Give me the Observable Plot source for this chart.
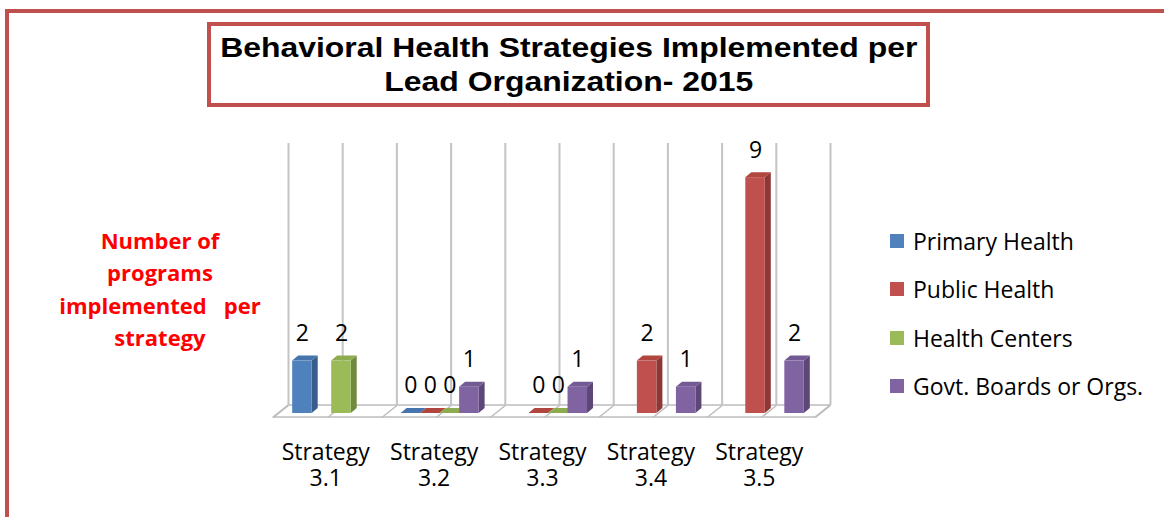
<!DOCTYPE html>
<html><head><meta charset="utf-8">
<script src="https://cdn.jsdelivr.net/npm/d3@7"></script>
<script src="https://cdn.jsdelivr.net/npm/@observablehq/plot@0.6"></script>
<style>
body{margin:0;background:#fff;overflow:hidden;width:1164px;height:517px;position:relative;font-family:"Open Sans",sans-serif}
#frame{position:absolute;left:5px;top:9px;width:1300px;height:700px;border:4px solid #c0504d;box-sizing:border-box}
#chart{position:absolute;left:0;top:0}
#title{position:absolute;left:207px;top:22px;width:723px;height:85px;border:4px solid #c0504d;box-sizing:border-box;background:#fff;display:flex;align-items:center;justify-content:center}
#title div{font-family:"Liberation Sans",Arial,sans-serif;font-weight:bold;font-size:28px;line-height:34px;text-align:center;transform:scaleX(1.14);white-space:pre}
#ytitle{position:absolute;left:40px;width:240px;top:224px;text-align:center;color:#ff0000;font-weight:bold;font-size:22px;line-height:32.3px;white-space:pre}
#legend{position:absolute;left:890px;top:217px}
.li{display:flex;align-items:center;height:48.3px;font-size:23px;color:#000}
.sw{width:14px;height:14px;margin-right:9px;flex:none}
</style></head><body>
<div id="frame"></div>
<div id="chart"></div>
<div id="title"><div></div></div>
<div id="ytitle"></div>
<div id="legend"></div>
<script>
// ---- data ----
const titleLines = ["Behavioral Health Strategies Implemented per", "Lead Organization- 2015"];
const yTitleLines = ["Number of", "programs", "implemented   per", "strategy"];
const categories = ["Strategy 3.1", "Strategy 3.2", "Strategy 3.3", "Strategy 3.4", "Strategy 3.5"];
const seriesNames = ["Primary Health", "Public Health", "Health Centers", "Govt. Boards or Orgs."];
const primaryHealth = [2, 0, null, null, null];
const publicHealth = [null, 0, 0, 2, 9];
const healthCenters = [2, 0, 0, null, null];
const govtBoards = [null, 1, 1, 1, 2];
const seriesValues = [primaryHealth, publicHealth, healthCenters, govtBoards];
const yDomain = [0, 10];

// ---- styles ----
const frontColors = ["#4f81bd", "#c0504d", "#9bbb59", "#8064a2"];
const topColors = ["#4675ad", "#b1463f", "#8dab4f", "#735a94"];
const sideColors = ["#385d8a", "#8c3836", "#71893f", "#5c4776"];

// ---- layout ----
const W = 1164, H = 517, ML = 288, MR = 334, MT = 143, MB = 112;
const xDomain = [0, categories.length];
const pxX = (W - ML - MR) / (xDomain[1] - xDomain[0]);
const pxY = (H - MT - MB) / (yDomain[1] - yDomain[0]);
const FDX = -11, FDY = 8;            // front plane offset in px
const depthX = 6 / pxX, depthY = 5 / pxY; // bar depth
const floorX = 15 / pxX, floorY = 12 / pxY;
const slot = 0.18, groupStart = 0.5 - 2 * slot;

const rows = [];
seriesValues.forEach((vals, k) => vals.forEach((v, i) => {
  if (v == null) return;
  const x1 = i + groupStart + k * slot;
  rows.push({k, i, v, x1, x2: x1 + slot, id: k + "-" + i});
}));

const grid = d3.range(0, categories.length + 0.01, 0.5);

const marks = [
  Plot.ruleX(grid, {x: d => d, y1: yDomain[0], y2: yDomain[1], stroke: "#c4c4c4", strokeWidth: 2}),
  Plot.area([{y: 0, xa: xDomain[0], xb: xDomain[1]}, {y: -floorY, xa: xDomain[0] - floorX, xb: xDomain[1] - floorX}],
    {x1: "xa", x2: "xb", y1: "y", fill: "white", stroke: "#bdbdbd", strokeWidth: 1.5}),
  Plot.link(grid, {x1: d => d, y1: 0, x2: d => d - floorX, y2: -floorY, stroke: "#bdbdbd", strokeWidth: 1.5})
];

seriesNames.forEach((name, k) => {
  const r = rows.filter(d => d.k === k);
  const tops = r.flatMap(d => [
    {id: d.id, y: d.v, xa: d.x1, xb: d.x2},
    {id: d.id, y: d.v + depthY, xa: d.x1 + depthX, xb: d.x2 + depthX}
  ]);
  const sides = r.filter(d => d.v > 0).flatMap(d => [
    {id: d.id, x: d.x2, ya: 0, yb: d.v},
    {id: d.id, x: d.x2 + depthX, ya: depthY, yb: d.v + depthY}
  ]);
  marks.push(
    Plot.area(sides, {x1: "x", y1: "ya", y2: "yb", z: "id", fill: sideColors[k], dx: FDX, dy: FDY}),
    Plot.rect(r.filter(d => d.v > 0), {x1: "x1", x2: "x2", y1: 0, y2: "v", fill: frontColors[k], dx: FDX, dy: FDY}),
    Plot.area(tops, {x1: "xa", x2: "xb", y1: "y", z: "id", fill: topColors[k], dx: FDX, dy: FDY})
  );
});

marks.push(
  Plot.text(rows, {x: d => (d.x1 + d.x2) / 2, y: "v", text: d => String(d.v), dx: FDX, dy: FDY - 27.5,
    lineAnchor: "middle", fontSize: 23, fontFamily: "Open Sans", fill: "#000"}),
  Plot.text(categories, {x: (d, i) => i + 0.5, y: 0, text: d => d.replace(" ", "\n"), dx: -17, dy: 59.5,
    lineAnchor: "middle", lineHeight: 26 / 23, fontSize: 23, fontFamily: "Open Sans", fill: "#000"})
);

const chart = Plot.plot({
  width: W, height: H,
  marginLeft: ML, marginRight: MR, marginTop: MT, marginBottom: MB,
  x: {domain: xDomain, axis: null},
  y: {domain: yDomain, axis: null},
  style: {background: "transparent", overflow: "visible"},
  marks
});
document.getElementById("chart").appendChild(chart);

document.querySelector("#title div").textContent = titleLines.join("\n");
document.getElementById("ytitle").textContent = yTitleLines.join("\n");
const legend = document.getElementById("legend");
seriesNames.forEach((name, k) => {
  const li = document.createElement("div");
  li.className = "li";
  li.innerHTML = `<span class="sw" style="background:${frontColors[k]}"></span><span></span>`;
  li.lastChild.textContent = name;
  legend.appendChild(li);
});
</script>
</body></html>
